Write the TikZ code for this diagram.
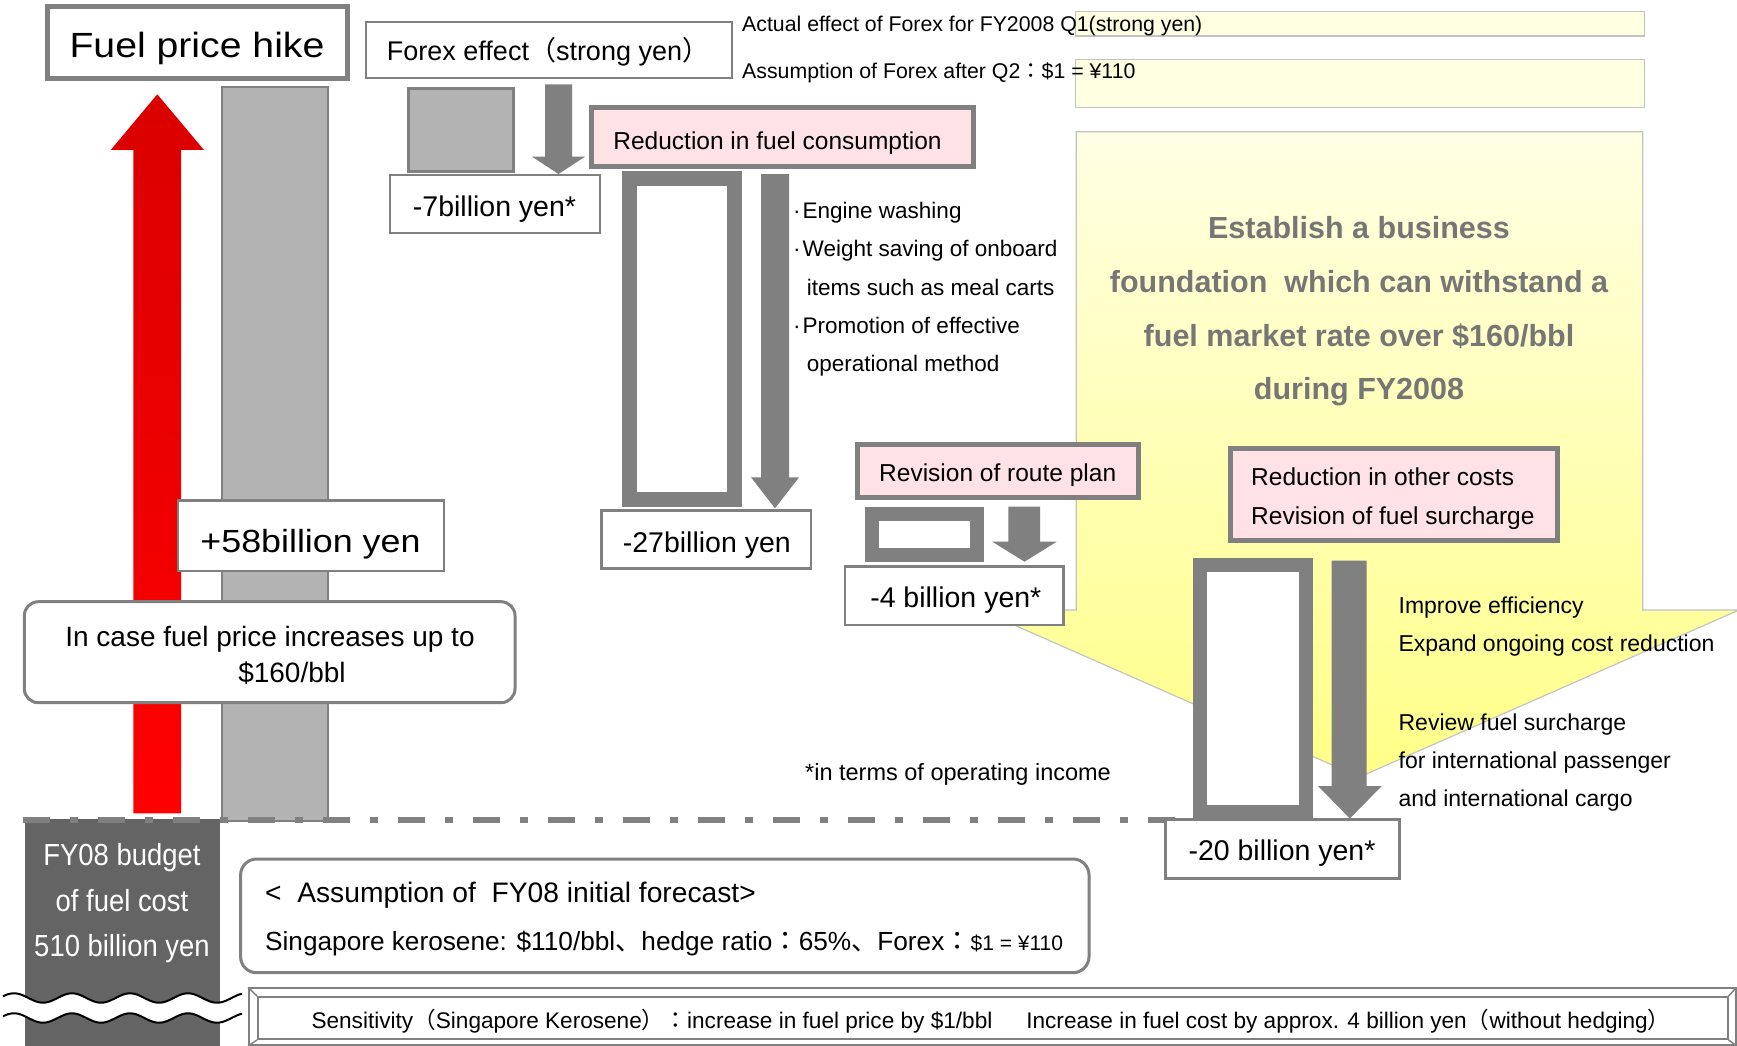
\documentclass[tikz,border=0pt]{standalone}
\usepackage{fontspec}
\setmainfont{Liberation Sans}
\newfontfamily\cjk{Noto Sans CJK JP}
\newfontfamily\widefont[FakeStretch=1.12]{Liberation Sans}
\newfontfamily\narrowfont[FakeStretch=0.9]{Liberation Sans}
\newcommand\jp[1]{{\cjk #1}}
\newcommand\fs[1]{\fontsize{#1}{#1}\selectfont}
\definecolor{framegray}{RGB}{128,128,128}
\definecolor{barfill}{RGB}{179,179,179}
\definecolor{pinkfill}{RGB}{255,226,230}
\definecolor{ytop}{RGB}{255,255,228}
\definecolor{ybot}{RGB}{255,255,135}
\definecolor{yline}{RGB}{195,195,195}
\definecolor{yboxfill}{RGB}{255,255,225}
\definecolor{redtop}{RGB}{218,0,0}
\definecolor{redbot}{RGB}{255,0,0}
\definecolor{darkfill}{RGB}{100,100,100}
\definecolor{esttext}{RGB}{118,118,118}
\newcommand\blockdown[7]{\fill[framegray] (#1,#3) -- (#2,#3) -- (#2,#6) -- (#5,#6) -- ({(#4+#5)/2},#7) -- (#4,#6) -- (#1,#6) -- cycle;}
\tikzset{
  txt/.style={inner sep=0pt, anchor=base},
  txtl/.style={inner sep=0pt, anchor=base west},
  thinbox/.style={draw=framegray, line width=2.5pt, fill=white, inner sep=0pt},
  thickbox/.style={draw=framegray, line width=5pt, fill=white, inner sep=0pt},
  pinkbox/.style={draw=framegray, line width=5pt, fill=pinkfill, inner sep=0pt},
  hollow/.style={draw=framegray, fill=white, inner sep=0pt},
  roundbox/.style={draw=framegray, line width=3pt, fill=white, rounded corners=14pt, inner sep=0pt},
  ybox/.style={draw=yline, line width=1.2pt, fill=yboxfill, inner sep=0pt},
}
\begin{document}
\begin{tikzpicture}[x=1pt,y=-1pt]
\useasboundingbox (0,0) rectangle (1737,1046);
\fill[white] (0,0) rectangle (1737,1046);

% big yellow block arrow
\shadedraw[top color=ytop,bottom color=ybot,draw=yline,line width=1.2pt]
  (1076.3,131.7) -- (1642.7,131.7) -- (1642.7,610) -- (1739,610) -- (1359.5,777)
  -- (980,610) -- (1076.3,610) -- cycle;

% top yellow boxes
\node[ybox, minimum width=568.8pt, minimum height=24.3pt] (ybA) at (1359.8,23.85) {};
\node[ybox, minimum width=568.8pt, minimum height=48pt] (ybB) at (1359.8,83.3) {};
\node[txtl] (act) at (742,32) {\fs{21.3}Actual effect of Forex for FY2008 Q1(strong yen)};
\node[txtl] (asf) at (742,79) {\fs{21.3}Assumption of Forex after Q2\jp{：}\$1 = ¥110};

% dash-dot base line
\coordinate (dashL) at (23.3,820);
\coordinate (dashR) at (1175,820);

% left: red arrow and gray bar
\shade[top color=redtop,bottom color=redbot]
  (133.3,813.3) -- (133.3,150) -- (110.7,150) -- (157.3,94.3) -- (204,150) -- (181,150) -- (181,813.3) -- cycle;
\node[draw=framegray, line width=2pt, fill=barfill, inner sep=0pt, minimum width=105.5pt, minimum height=734.3pt] (gbar) at (274.75,453.85) {};

% budget dark box
\node[fill=darkfill, inner sep=0pt, minimum width=195pt, minimum height=240pt] (budget) at (122,939.3) {};
\draw[framegray, line width=6pt, dash pattern=on 27pt off 20pt on 8pt off 20pt] (dashL) -- (dashR);
\node[txt, text=white] (bud1) at (122,865) {\narrowfont\fs{30.5}FY08 budget};
\node[txt, text=white] (bud2) at (122,911) {\narrowfont\fs{30.5}of fuel cost};
\node[txt, text=white] (bud3) at (122,956) {\narrowfont\fs{30.5}510 billion yen};

% wave break
\fill[white] plot[domain=3:242, samples=120] (\x,{998+4.7*cos((\x-43)*6.207)})
  -- plot[domain=242:3, samples=120] (\x,{1018+4.7*cos((\x-43)*6.207)}) -- cycle;
\draw[black, line width=2pt] plot[domain=3:242, samples=120] (\x,{998+4.7*cos((\x-43)*6.207)});
\draw[black, line width=2pt] plot[domain=3:242, samples=120] (\x,{1018+4.7*cos((\x-43)*6.207)});

% Fuel price hike
\node[thickbox, minimum width=300.5pt, minimum height=72pt] (fuel) at (197.25,43) {};
\node[txt] (fuelt) at (197,58) {\widefont\fs{35}Fuel price hike};

% +58 and in case
\node[thinbox, minimum width=266pt, minimum height=70.3pt] (p58) at (311,535.85) {};
\node[txt] (p58t) at (310.5,552.7) {\widefont\fs{32}+58billion yen};
\node[roundbox, minimum width=490.7pt, minimum height=101pt] (incase) at (269.65,652.2) {};
\node[txt] (inc1) at (270,646.7) {\fs{28}In case fuel price increases up to};
\node[txt] (inc2) at (292,682) {\fs{28}\$160/bbl};

% Forex
\node[thinbox, minimum width=366pt, minimum height=56pt] (forex) at (549,50) {};
\node[txt] (forext) at (548,61) {\fs{27}Forex effect\jp{（}strong yen\jp{）}};
\node[draw=framegray, line width=3pt, fill=barfill, inner sep=0pt, minimum width=105pt, minimum height=82.4pt] (fxbar) at (461,130) {};
\blockdown{545}{572}{84.3}{532}{585}{156.7}{174}
\node[thinbox, minimum width=210pt, minimum height=58pt] (m7) at (495,204) {};
\node[txt] (m7t) at (494.5,216) {\fs{28.5}-7billion yen*};

% Reduction in fuel consumption
\node[pinkbox, minimum width=381.4pt, minimum height=59pt] (red) at (782.5,137) {};
\node[txt] (redt) at (777.5,149.3) {\fs{24.5}Reduction in fuel consumption};
\node[hollow, line width=14.5pt, minimum width=105pt, minimum height=321pt] (redframe) at (682,338.8) {};
\blockdown{761}{789}{174}{751}{799}{477.3}{508.3}
\node[thinbox, minimum width=209.5pt, minimum height=57.6pt] (m27) at (706.25,539.5) {};
\node[txt] (m27t) at (706.8,552) {\fs{28.5}-27billion yen};
\node[txtl] (b1) at (793,218.3) {\fs{22.5}·\hspace{2pt}Engine washing};
\node[txtl] (b2) at (793,256.7) {\fs{22.5}·\hspace{2pt}Weight saving of onboard};
\node[txtl] (b3) at (806.7,295) {\fs{22.5}items such as meal carts};
\node[txtl] (b4) at (793,333.3) {\fs{22.5}·\hspace{2pt}Promotion of effective};
\node[txtl] (b5) at (806.7,371.7) {\fs{22.5}operational method};

% Establish text
\node[txt, text=esttext] (est1) at (1359,238.3) {\bfseries\fs{30.5}Establish a business};
\node[txt, text=esttext] (est2) at (1359,292.7) {\bfseries\fs{30.5}foundation~~which can withstand a};
\node[txt, text=esttext] (est3) at (1359,346.7) {\bfseries\fs{30.5}fuel market rate over \$160/bbl};
\node[txt, text=esttext] (est4) at (1359,399.3) {\bfseries\fs{30.5}during FY2008};

% Revision of route plan
\node[pinkbox, minimum width=281pt, minimum height=52.7pt] (route) at (998,471.15) {};
\node[txt] (routet) at (997.7,481) {\fs{24.5}Revision of route plan};
\node[hollow, line width=14pt, minimum width=105pt, minimum height=41.6pt] (routeframe) at (924.5,534.5) {};
\blockdown{1008.3}{1040}{506.7}{992.3}{1056.7}{541.7}{561.7}
\node[thinbox, minimum width=218.3pt, minimum height=58.3pt] (m4) at (954.15,595.85) {};
\node[txt] (m4t) at (955.8,607.7) {\fs{28.5}-4 billion yen*};

% other costs
\node[pinkbox, minimum width=327.3pt, minimum height=92.3pt] (oc) at (1393.65,494.65) {};
\node[txtl] (oc1) at (1251,485) {\fs{24.5}Reduction in other costs};
\node[txtl] (oc2) at (1251,524) {\fs{24.5}Revision of fuel surcharge};
\node[hollow, line width=14pt, minimum width=105.5pt, minimum height=246.7pt] (ocframe) at (1252.75,688.65) {};
\blockdown{1331.5}{1366.5}{560.7}{1318}{1381.7}{786}{818.5}
\node[thinbox, minimum width=234pt, minimum height=59pt] (m20) at (1282.5,848.8) {};
\node[txt] (m20t) at (1282,860) {\fs{28.5}-20 billion yen*};
\node[txtl] (r1) at (1398.4,613.3) {\fs{23}Improve efficiency};
\node[txtl] (r2) at (1398.4,651.7) {\fs{23}Expand ongoing cost reduction};
\node[txtl] (r3) at (1398.4,730) {\fs{23}Review fuel surcharge};
\node[txtl] (r4) at (1398.4,768.3) {\fs{23}for international passenger};
\node[txtl] (r5) at (1398.4,806.7) {\fs{23}and international cargo};

\node[txtl] (note) at (805,780) {\fs{23.5}*in terms of operating income};

% assumption box
\node[roundbox, minimum width=848.4pt, minimum height=113.7pt, rounded corners=16pt] (assume) at (664.8,915.85) {};
\node[txtl] (as1) at (265,902.7) {\fs{28.2}<~~Assumption of~~FY08 initial forecast>};
\node[txtl] (as2) at (265,950) {\fs{26.2}Singapore kerosene: \$110/bbl\jp{、}hedge ratio\jp{：}65\%\jp{、}Forex\jp{：}{\fs{21}\$1 = ¥110}};

% sensitivity bevel box
\node[draw=framegray, line width=2pt, fill=white, inner sep=0pt, minimum width=1486.6pt, minimum height=56.7pt] (sens) at (992.3,1016.65) {};
\node[draw=framegray, line width=2pt, inner sep=0pt, minimum width=1469.6pt, minimum height=42pt] (sensin) at (992.8,1018) {};
\draw[framegray, line width=1.5pt] (sens.north west) -- (sensin.north west);
\draw[framegray, line width=1.5pt] (sens.north east) -- (sensin.north east);
\draw[framegray, line width=1.5pt] (sens.south west) -- (sensin.south west);
\draw[framegray, line width=1.5pt] (sens.south east) -- (sensin.south east);
\node[txt] (senst) at (991,1028) {\fs{22.6}Sensitivity\jp{（}Singapore Kerosene\jp{）：}increase in fuel price by \$1/bbl\hspace{34pt}Increase in fuel cost by approx. 4 billion yen\jp{（}without hedging\jp{）}};
\end{tikzpicture}
\end{document}
